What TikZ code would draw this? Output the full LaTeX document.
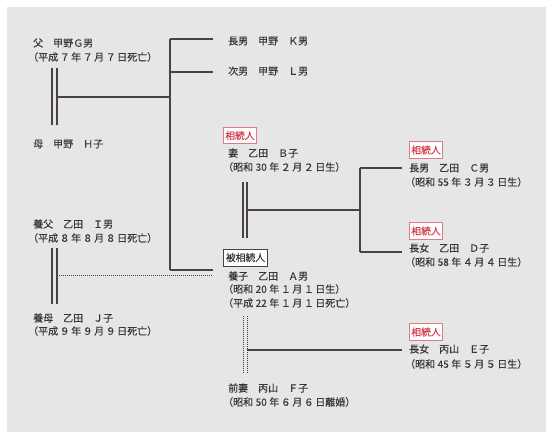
\documentclass[tikz,border=0pt]{standalone}
\usepackage{fontspec}
\newfontfamily\jp[FakeBold=0.15]{Noto Sans CJK JP}
\definecolor{bg}{HTML}{E6E6E6}
\definecolor{ink}{HTML}{3A3636}
\definecolor{ln}{HTML}{4A4242}
\definecolor{rtext}{HTML}{D23C4B}
\definecolor{rline}{HTML}{E07A86}
\tikzset{
  lbl/.style={anchor=west,inner sep=0pt,font=\jp\fontsize{10}{12}\selectfont,text=ink},
  heir/.style={draw=rline,fill=white,line width=0.9pt,text=rtext,inner sep=2pt,minimum height=16.5pt,font=\jp\fontsize{9.8}{11}\selectfont},
  dec/.style={draw=ln,fill=white,line width=0.9pt,text=ink,inner sep=2pt,minimum height=17pt,font=\jp\fontsize{9.8}{11}\selectfont},
  conn/.style={draw=ln,line width=1.1pt},
  dconn/.style={draw=ln,line width=1pt,dash pattern=on 1pt off 1pt},
}
\newcommand{\ns}{\hspace{2.5pt}}
\newcommand{\dg}[1]{\hspace{1.5pt}#1\hspace{1.5pt}}
\begin{document}
\begin{tikzpicture}[x=1pt,y=-1pt]
\useasboundingbox (0,0) rectangle (550,438);
\fill[white] (0,0) rectangle (550,438);
\fill[bg] (7,7) rectangle (546,432);

% texts
\node[lbl] (g1) at (33,43) {父　甲野Ｇ男};
\node[lbl] (g2) at (28,57) {（平成\dg{７}年\dg{７}月\dg{７}日死亡）};
\node[lbl] (h1) at (33,144) {母　甲野　Ｈ子};
\node[lbl] (k1) at (228,41) {長男　甲野　Ｋ男};
\node[lbl] (l1) at (228,71) {次男　甲野　Ｌ男};
\node[heir] (bh) at (240,135.5) {相続人};
\node[lbl] (b1) at (228,153) {妻　乙田　Ｂ子};
\node[lbl] (b2) at (223,167) {（昭和{\ns}30{\ns}年\dg{２}月\dg{２}日生）};
\node[heir] (ch) at (426,150) {相続人};
\node[lbl] (c1) at (409,168) {長男　乙田　Ｃ男};
\node[lbl] (c2) at (405,182) {（昭和{\ns}55{\ns}年\dg{３}月\dg{３}日生）};
\node[heir] (dh) at (426,231) {相続人};
\node[lbl] (d1) at (409,248) {長女　乙田　Ｄ子};
\node[lbl] (d2) at (405,262) {（昭和{\ns}58{\ns}年\dg{４}月\dg{４}日生）};
\node[dec] (ah) at (245.5,257.5) {被相続人};
\node[lbl] (a1) at (228,276) {養子　乙田　Ａ男};
\node[lbl] (a2) at (223,289) {（昭和{\ns}20{\ns}年\dg{１}月\dg{１}日生）};
\node[lbl] (a3) at (223,303) {（平成{\ns}22{\ns}年\dg{１}月\dg{１}日死亡）};
\node[heir] (eh) at (426,332) {相続人};
\node[lbl] (e1) at (409,349) {長女　丙山　Ｅ子};
\node[lbl] (e2) at (405,364) {（昭和{\ns}45{\ns}年\dg{５}月\dg{５}日生）};
\node[lbl] (f1) at (228,388) {前妻　丙山　Ｆ子};
\node[lbl] (f2) at (223,402) {（昭和{\ns}50{\ns}年\dg{６}月\dg{６}日離婚）};
\node[lbl] (i1) at (33,224) {養父　乙田　Ｉ男};
\node[lbl] (i2) at (28,238) {（平成\dg{８}年\dg{８}月\dg{８}日死亡）};
\node[lbl] (j1) at (33,318) {養母　乙田　Ｊ子};
\node[lbl] (j2) at (28,331) {（平成\dg{９}年\dg{９}月\dg{９}日死亡）};

% coordinates
\coordinate (gm1t) at (52,68);  \coordinate (gm1b) at (52,125);
\coordinate (gm2t) at (57,68);  \coordinate (gm2b) at (57,125);
\coordinate (gmj) at (57,97);
\coordinate (tr) at (170,97);
\coordinate (trT) at (170,39);
\coordinate (trL) at (170,72);
\coordinate (trA) at (170,270);
\coordinate (kE) at (213,39);
\coordinate (lE) at (213,72);
\coordinate (aE) at (213,270);

\coordinate (ij1t) at (52,248); \coordinate (ij1b) at (52,304);
\coordinate (ij2t) at (57,248); \coordinate (ij2b) at (57,304);
\coordinate (ijj) at (57,276);
\coordinate (ijE) at (213,276);

\coordinate (ab1t) at (243,182); \coordinate (ab1b) at (243,238);
\coordinate (ab2t) at (247,182); \coordinate (ab2b) at (247,238);
\coordinate (abj) at (247,210);
\coordinate (cd) at (360,210);
\coordinate (cdT) at (360,168);
\coordinate (cdB) at (360,252);
\coordinate (cE) at (402,168);
\coordinate (dE) at (402,252);

\coordinate (af1t) at (243,316); \coordinate (af1b) at (243,373);
\coordinate (af2t) at (247,316); \coordinate (af2b) at (247,373);
\coordinate (afj) at (247,350);
\coordinate (eE) at (402,350);

% lines
\draw[conn] (gm1t) -- (gm1b);
\draw[conn] (gm2t) -- (gm2b);
\draw[conn] (gmj) -- (tr);
\draw[conn] (trT) -- (trA);
\draw[conn] (trT) -- (kE);
\draw[conn] (trL) -- (lE);
\draw[conn] (trA) -- (aE);

\draw[conn] (ij1t) -- (ij1b);
\draw[conn] (ij2t) -- (ij2b);
\draw[dconn] (ijj) -- (ijE);

\draw[conn] (ab1t) -- (ab1b);
\draw[conn] (ab2t) -- (ab2b);
\draw[conn] (abj) -- (cd);
\draw[conn] (cdT) -- (cdB);
\draw[conn] (cdT) -- (cE);
\draw[conn] (cdB) -- (dE);

\draw[dconn] (af1t) -- (af1b);
\draw[dconn] (af2t) -- (af2b);
\draw[conn] (afj) -- (eE);
\end{tikzpicture}
\end{document}
